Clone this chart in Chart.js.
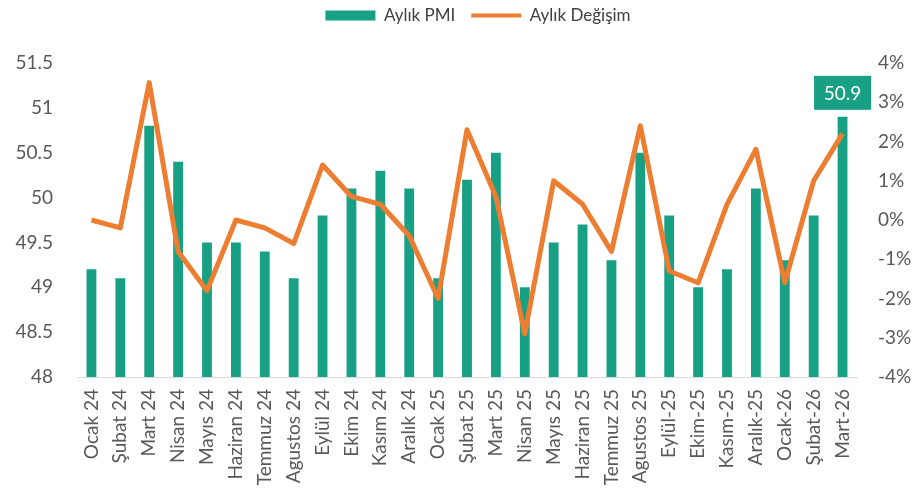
<!DOCTYPE html>
<html>
<head>
<meta charset="utf-8">
<script src="https://cdn.jsdelivr.net/npm/chart.js@4/dist/chart.umd.min.js"></script>
<style>
  body { margin: 0; background: #fff; }
  #wrap { width: 912px; height: 494px; position: relative; }
</style>
</head>
<body>
<div id="wrap"><canvas id="pmiChart"></canvas></div>
<script>
const months = [
  "Ocak 24", "Şubat 24", "Mart 24", "Nisan 24", "Mayıs 24", "Haziran 24",
  "Temmuz 24", "Agustos 24", "Eylül 24", "Ekim 24", "Kasım 24", "Aralık 24",
  "Ocak 25", "Şubat 25", "Mart 25", "Nisan 25", "Mayıs 25", "Haziran 25",
  "Temmuz 25", "Agustos 25", "Eylül-25", "Ekim-25", "Kasım-25", "Aralık-25",
  "Ocak-26", "Şubat-26", "Mart-26"
];
const pmi = [
  49.2, 49.1, 50.8, 50.4, 49.5, 49.5, 49.4, 49.1, 49.8, 50.1, 50.3, 50.1,
  49.1, 50.2, 50.5, 49.0, 49.5, 49.7, 49.3, 50.5, 49.8, 49.0, 49.2, 50.1,
  49.3, 49.8, 50.9
];
const monthlyChange = [
  0.0, -0.2, 3.5, -0.8, -1.8, 0.0, -0.2, -0.6, 1.4, 0.6, 0.4, -0.4,
  -2.0, 2.3, 0.6, -2.9, 1.0, 0.4, -0.8, 2.4, -1.3, -1.6, 0.4, 1.8,
  -1.6, 1.0, 2.2
];
const leftTicks = [48, 48.5, 49, 49.5, 50, 50.5, 51, 51.5];
const rightTicks = [-4, -3, -2, -1, 0, 1, 2, 3, 4];

const GREEN = '#17a084';
const ORANGE = '#ed7d31';
const FONT = 'Lato, "DejaVu Sans", sans-serif';

// label box on the last bar
const lastLabel = {
  id: 'lastLabel',
  afterDatasetsDraw(chart) {
    const meta = chart.getDatasetMeta(1);
    const i = pmi.length - 1;
    const bar = meta.data[i];
    const ctx = chart.ctx;
    const w = 57, h = 34;
    ctx.save();
    ctx.fillStyle = GREEN;
    ctx.fillRect(bar.x - w / 2, bar.y - 7 - h, w, h);
    ctx.fillStyle = '#fff';
    ctx.font = '19px ' + FONT;
    ctx.textAlign = 'center';
    ctx.textBaseline = 'middle';
    ctx.fillText(pmi[i].toFixed(1), bar.x, bar.y - 7 - h / 2 + 1);
    ctx.restore();
  }
};

// move legend up and a bit to the right like the original
const legendShift = {
  id: 'legendShift',
  afterLayout(chart) {
    const lg = chart.legend;
    lg.left += 22;
    lg.right += 22;
    lg.top -= 29;
    lg.bottom -= 29;
  }
};

new Chart(document.getElementById('pmiChart'), {
  data: {
    labels: months,
    datasets: [
      {
        type: 'line',
        label: 'Aylık Değişim',
        data: monthlyChange,
        yAxisID: 'y1',
        borderColor: ORANGE,
        backgroundColor: ORANGE,
        borderWidth: 5,
        pointRadius: 0,
        borderJoinStyle: 'round',
        tension: 0,
        order: 0
      },
      {
        type: 'bar',
        label: 'Aylık PMI',
        data: pmi,
        yAxisID: 'y',
        backgroundColor: GREEN,
        categoryPercentage: 1,
        barPercentage: 0.34,
        order: 1
      }
    ]
  },
  options: {
    responsive: true,
    maintainAspectRatio: false,
    animation: false,
    layout: { padding: { top: 20, left: 0, right: 0, bottom: 0 } },
    plugins: {
      tooltip: { enabled: false },
      legend: {
        position: 'top',
        reverse: true,
        labels: {
          color: '#404040',
          font: { family: FONT, size: 17 },
          usePointStyle: true,
          pointStyleWidth: 50,
          boxHeight: 10,
          padding: 16,
          generateLabels(chart) {
            const items = Chart.defaults.plugins.legend.labels.generateLabels(chart);
            items.forEach(it => {
              if (it.datasetIndex === 0) {
                it.pointStyle = 'line';
                it.lineWidth = 4;
                it.strokeStyle = ORANGE;
              } else {
                it.pointStyle = 'rect';
                it.lineWidth = 0;
              }
            });
            return items;
          }
        }
      }
    },
    scales: {
      x: {
        grid: { display: false, drawTicks: false },
        border: { color: '#d9d9d9', width: 1 },
        ticks: {
          autoSkip: false,
          minRotation: 90,
          maxRotation: 90,
          padding: 12,
          color: '#595959',
          font: { family: FONT, size: 19 }
        },
        afterFit(s) { s.height = 117; }
      },
      y: {
        position: 'left',
        min: 48,
        max: 51.5,
        grid: { display: false, drawTicks: false },
        border: { display: false },
        afterBuildTicks(s) { s.ticks = leftTicks.map(v => ({ value: v })); },
        ticks: {
          padding: 24,
          color: '#595959',
          font: { family: FONT, size: 19 },
          callback: v => String(v)
        },
        afterFit(s) { s.width = 77; }
      },
      y1: {
        position: 'right',
        min: -4,
        max: 4,
        grid: { display: false, drawTicks: false },
        border: { display: false },
        afterBuildTicks(s) { s.ticks = rightTicks.map(v => ({ value: v })); },
        ticks: {
          padding: 21,
          color: '#595959',
          font: { family: FONT, size: 19 },
          callback: v => v + '%'
        },
        afterFit(s) { s.width = 55; }
      }
    }
  },
  plugins: [lastLabel, legendShift]
});
</script>
</body>
</html>
